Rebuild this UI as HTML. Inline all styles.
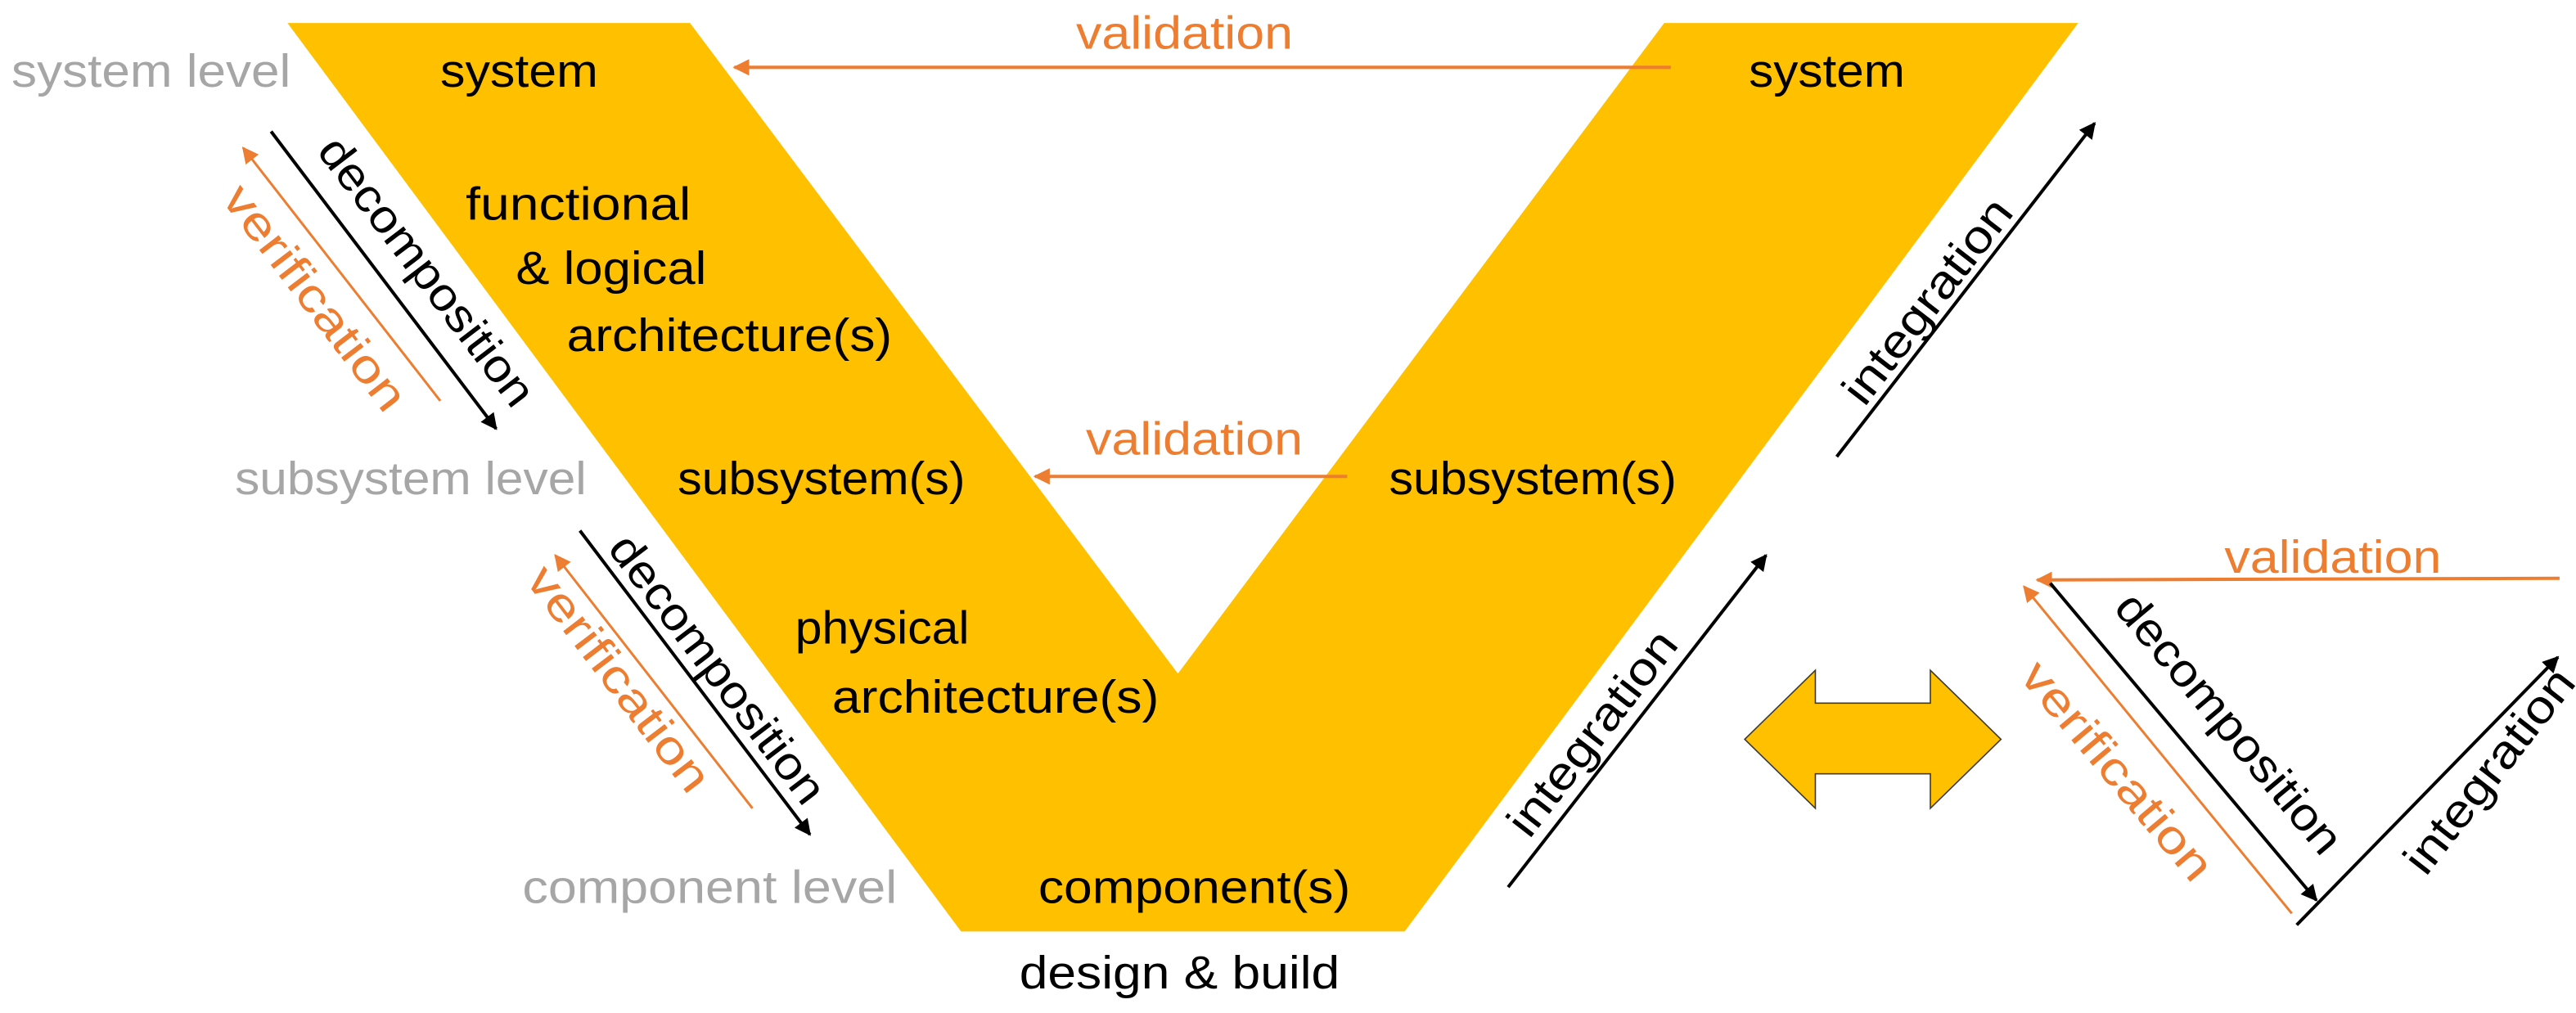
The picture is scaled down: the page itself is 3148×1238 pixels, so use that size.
<!DOCTYPE html>
<html><head><meta charset="utf-8"><style>html,body{margin:0;padding:0;background:#fff}svg{display:block}</style></head>
<body>
<svg width="3148" height="1238" viewBox="0 0 1568 616.6" preserveAspectRatio="none" xmlns="http://www.w3.org/2000/svg" font-family="'Liberation Sans', sans-serif" font-size="28">
<defs>
<marker id="ak" markerWidth="10" markerHeight="10" refX="9" refY="5" orient="auto" markerUnits="userSpaceOnUse"><path d="M0,0 L10,5 L0,10 z" fill="#000"/></marker>
<marker id="ao" markerWidth="10" markerHeight="10" refX="9" refY="5" orient="auto" markerUnits="userSpaceOnUse"><path d="M0,0 L10,5 L0,10 z" fill="#ED7D31"/></marker>
</defs>
<polygon points="175,14 420,14 717,410 1013,14 1265,14 855,567 585,567" fill="#FFC000"/>
<g text-anchor="middle" dominant-baseline="central" fill="#000">
<text x="316" y="43" textLength="96" lengthAdjust="spacingAndGlyphs">system</text>
<text x="352" y="124" textLength="137" lengthAdjust="spacingAndGlyphs">functional</text>
<text x="372" y="163" textLength="116" lengthAdjust="spacingAndGlyphs">&amp; logical</text>
<text x="444" y="204" textLength="198" lengthAdjust="spacingAndGlyphs">architecture(s)</text>
<text x="500" y="291" textLength="175" lengthAdjust="spacingAndGlyphs">subsystem(s)</text>
<text x="537" y="382" textLength="106" lengthAdjust="spacingAndGlyphs">physical</text>
<text x="606" y="424" textLength="199" lengthAdjust="spacingAndGlyphs">architecture(s)</text>
<text x="727" y="540" textLength="190" lengthAdjust="spacingAndGlyphs">component(s)</text>
<text x="718" y="592" textLength="195" lengthAdjust="spacingAndGlyphs">design &amp; build</text>
<text x="1112" y="43" textLength="95" lengthAdjust="spacingAndGlyphs">system</text>
<text x="933" y="291" textLength="175" lengthAdjust="spacingAndGlyphs">subsystem(s)</text>
</g>
<g text-anchor="end" dominant-baseline="central" fill="#A6A6A6">
<text x="177" y="43" textLength="170" lengthAdjust="spacingAndGlyphs">system level</text>
<text x="357" y="291" textLength="214" lengthAdjust="spacingAndGlyphs">subsystem level</text>
<text x="546" y="540" textLength="228" lengthAdjust="spacingAndGlyphs">component level</text>
</g>
<g fill="#ED7D31" text-anchor="middle" dominant-baseline="central">
<text x="721" y="20" textLength="132" lengthAdjust="spacingAndGlyphs">validation</text>
<text x="727" y="267" textLength="132" lengthAdjust="spacingAndGlyphs">validation</text>
<text x="1420" y="339" textLength="132" lengthAdjust="spacingAndGlyphs">validation</text>
<text transform="translate(192,181) rotate(52.7)" textLength="165" lengthAdjust="spacingAndGlyphs">verification</text>
<text transform="translate(377,413) rotate(52.7)" textLength="165" lengthAdjust="spacingAndGlyphs">verification</text>
<text transform="translate(1289,469) rotate(50)" textLength="165" lengthAdjust="spacingAndGlyphs">verification</text>
</g>
<g fill="#000" text-anchor="middle" dominant-baseline="central">
<text transform="translate(260,165) rotate(52.7)" textLength="198" lengthAdjust="spacingAndGlyphs">decomposition</text>
<text transform="translate(437,407) rotate(52.7)" textLength="198" lengthAdjust="spacingAndGlyphs">decomposition</text>
<text transform="translate(1357,440) rotate(50)" textLength="198" lengthAdjust="spacingAndGlyphs">decomposition</text>
<text transform="translate(1173,183) rotate(-52.3)" textLength="150" lengthAdjust="spacingAndGlyphs">integration</text>
<text transform="translate(969,446) rotate(-52.3)" textLength="150" lengthAdjust="spacingAndGlyphs">integration</text>
<text transform="translate(1515,469) rotate(-52)" textLength="150" lengthAdjust="spacingAndGlyphs">integration</text>
</g>
<g stroke-width="2" fill="none">
<line x1="1017" y1="41" x2="447" y2="41" stroke="#ED7D31" marker-end="url(#ao)"/>
<line x1="820" y1="290" x2="630" y2="290" stroke="#ED7D31" marker-end="url(#ao)"/>
<line x1="1558" y1="352" x2="1240" y2="353" stroke="#ED7D31" marker-end="url(#ao)"/>
<line x1="268" y1="244" x2="148" y2="90" stroke="#ED7D31" stroke-width="1.5" marker-end="url(#ao)"/>
<line x1="458" y1="492" x2="338" y2="338" stroke="#ED7D31" stroke-width="1.5" marker-end="url(#ao)"/>
<line x1="1395" y1="556" x2="1232" y2="357" stroke="#ED7D31" stroke-width="1.5" marker-end="url(#ao)"/>
<line x1="165" y1="80" x2="302" y2="261" stroke="#000" marker-end="url(#ak)"/>
<line x1="353" y1="323" x2="493" y2="508" stroke="#000" marker-end="url(#ak)"/>
<line x1="1248" y1="355" x2="1410" y2="548" stroke="#000" marker-end="url(#ak)"/>
<line x1="1118" y1="278" x2="1275" y2="75" stroke="#000" marker-end="url(#ak)"/>
<line x1="918" y1="540" x2="1075" y2="338" stroke="#000" marker-end="url(#ak)"/>
<line x1="1398" y1="563" x2="1557" y2="400" stroke="#000" marker-end="url(#ak)"/>
</g>
<polygon points="1062,450 1105,408 1105,428 1175,428 1175,408 1218,450 1175,492 1175,471 1105,471 1105,492" fill="#FFC000" stroke="#3a3a3a" stroke-width="0.8"/>
</svg>
</body></html>
